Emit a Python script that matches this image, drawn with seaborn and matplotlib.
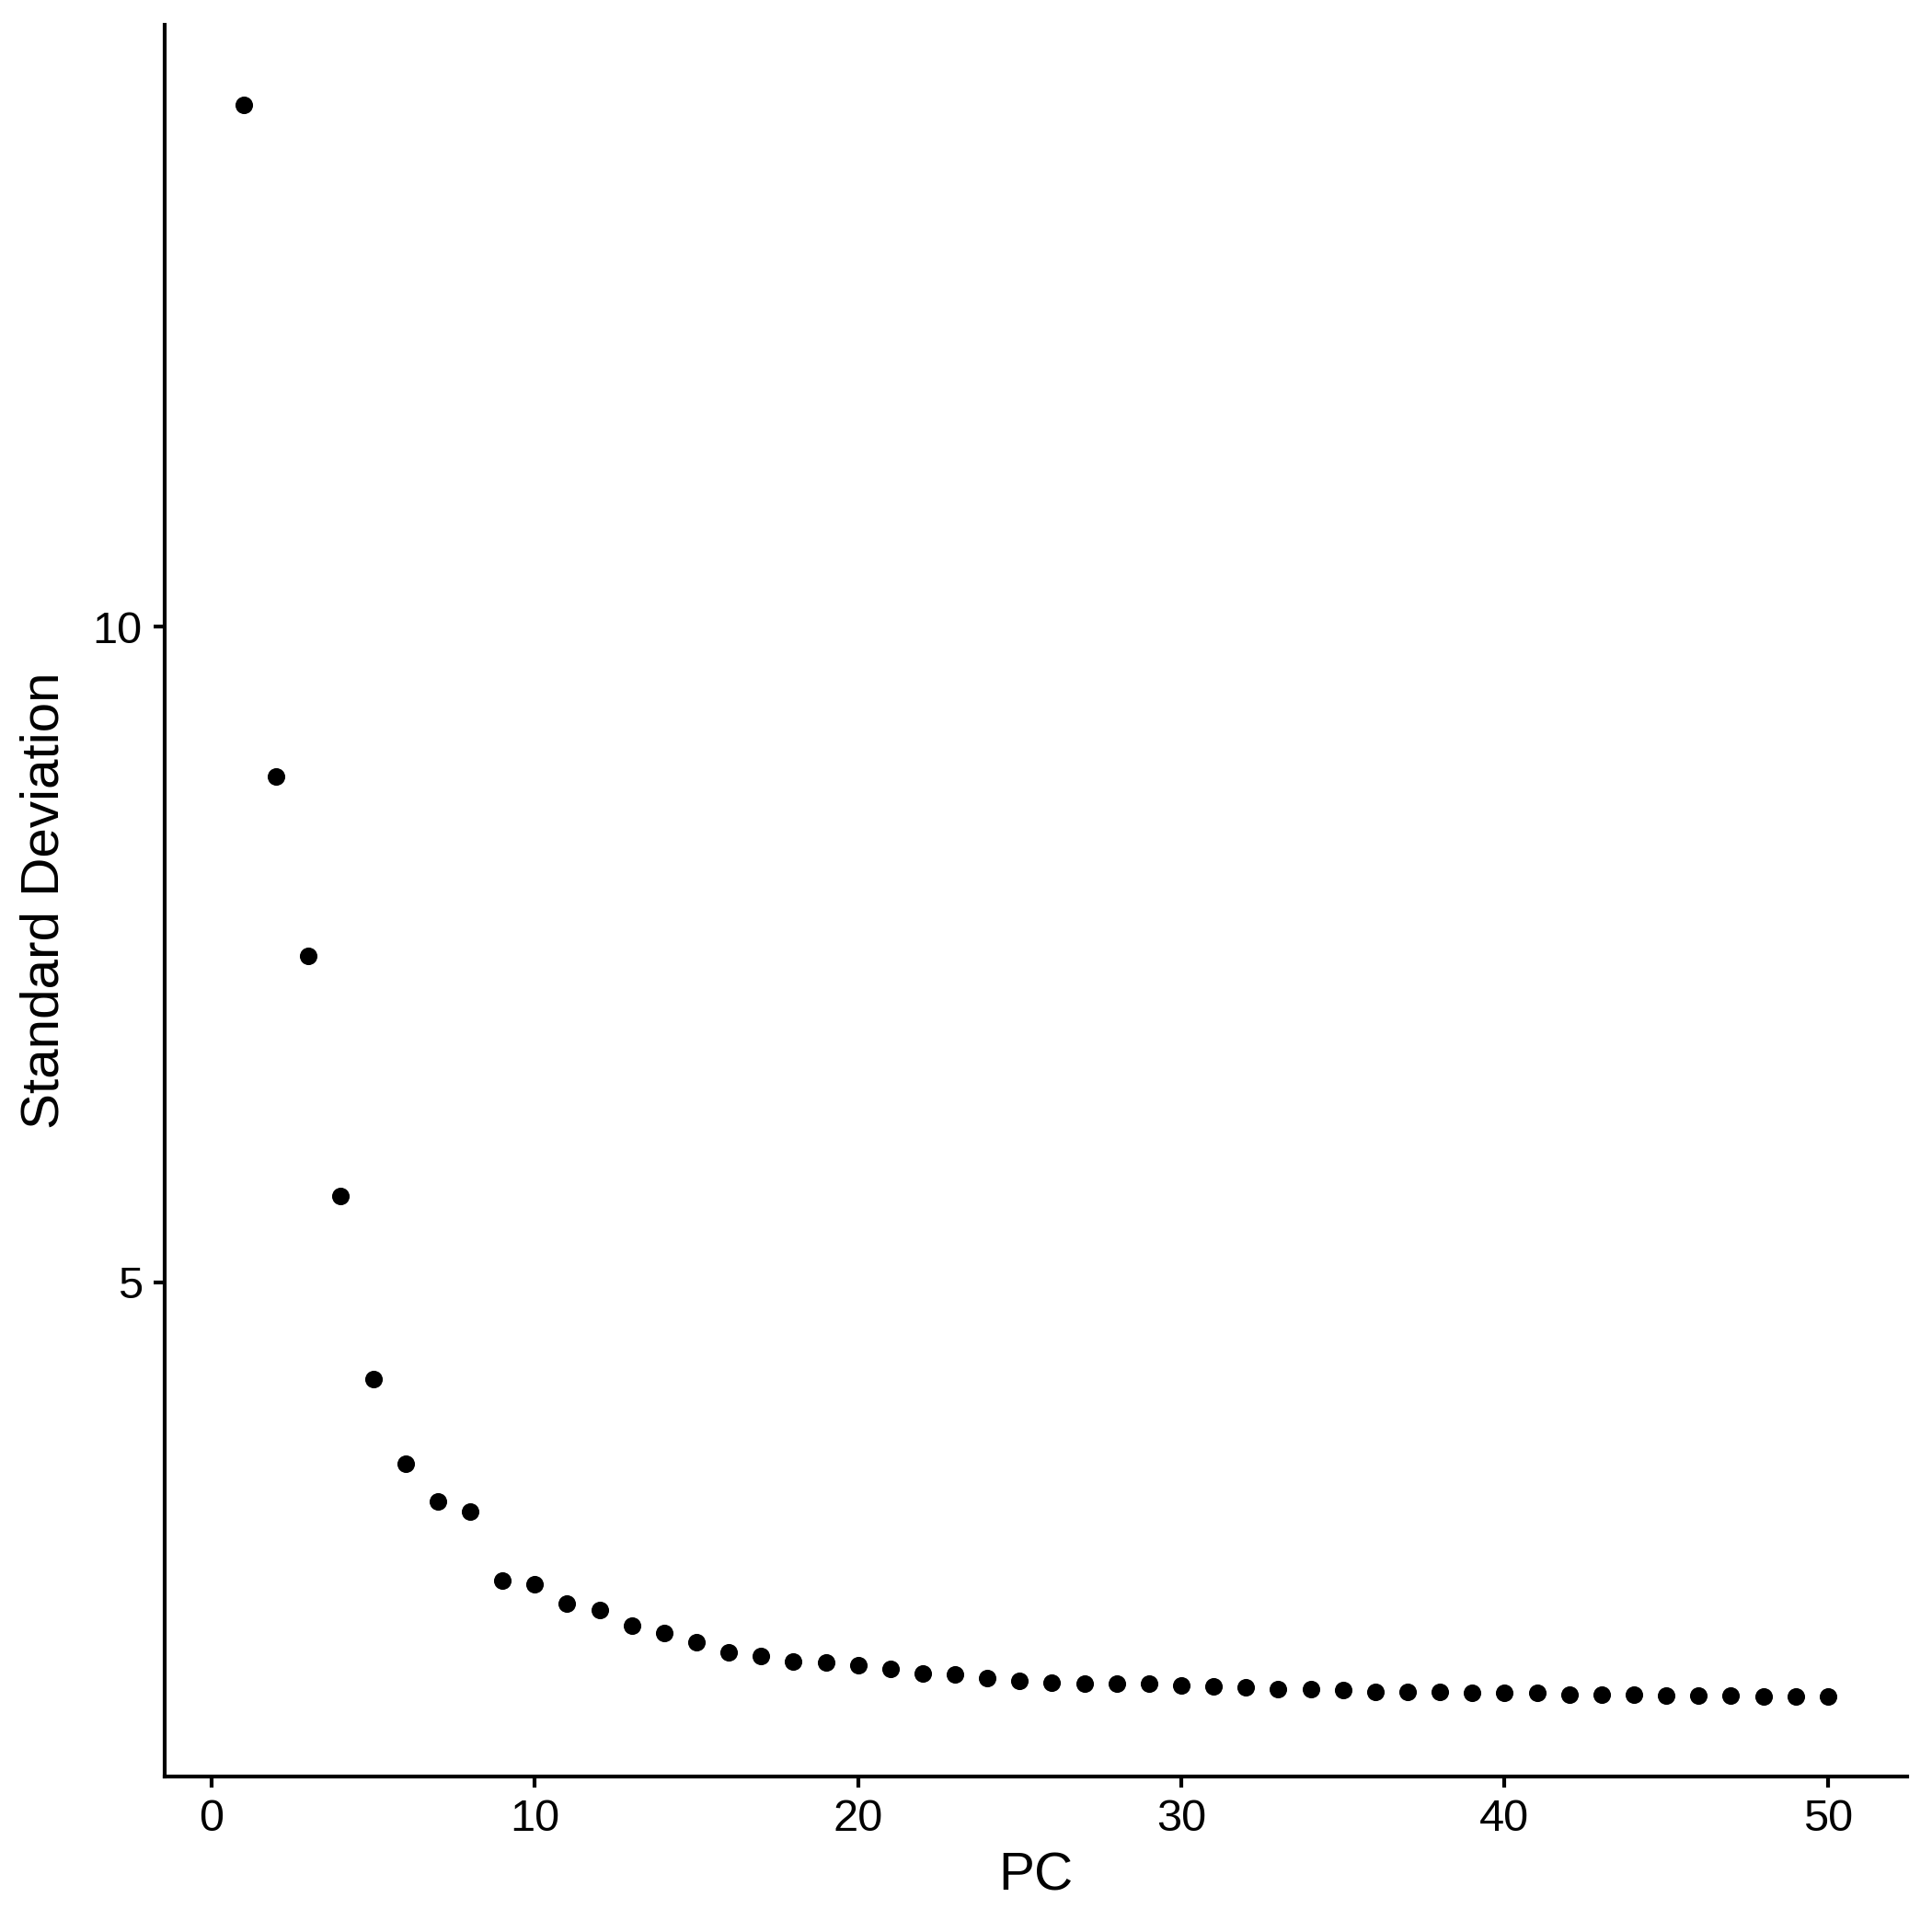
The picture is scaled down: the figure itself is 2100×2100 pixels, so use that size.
import matplotlib
matplotlib.use("Agg")
import matplotlib.pyplot as plt
import seaborn as sns
import pandas as pd

# elbow plot values
pcs = list(range(1, 51))
std_dev = [13.98, 8.86, 7.49, 5.66, 4.26, 3.62, 3.33, 3.25, 2.73, 2.70,
           2.55, 2.50, 2.38, 2.33, 2.26, 2.18, 2.15, 2.11, 2.10, 2.08,
           2.05, 2.02, 2.01, 1.98, 1.96, 1.95, 1.94, 1.94, 1.94, 1.93,
           1.92, 1.91, 1.90, 1.90, 1.89, 1.88, 1.88, 1.88, 1.87, 1.87,
           1.87, 1.86, 1.86, 1.86, 1.85, 1.85, 1.85, 1.84, 1.84, 1.84]
x_ticks = [0, 10, 20, 30, 40, 50]
y_ticks = [5, 10]

sns.set_style("ticks")
plt.rcParams["font.family"] = ["Liberation Sans", "DejaVu Sans"]
plt.rcParams["text.color"] = "black"
plt.rcParams["axes.labelcolor"] = "black"

df = pd.DataFrame({"PC": pcs, "Standard Deviation": std_dev})

fig = plt.figure(figsize=(7, 7), dpi=300)
ax = fig.add_axes([0.0852, 0.0805, 0.9019, 0.9066])
sns.scatterplot(data=df, x="PC", y="Standard Deviation", color="black",
                s=21, linewidth=0, ax=ax)

# ggplot-style 5% expansion
xr = max(pcs) - min(pcs)
yr = max(std_dev) - min(std_dev)
ax.set_xlim(min(pcs) - 0.05 * xr, max(pcs) + 0.05 * xr)
ax.set_ylim(min(std_dev) - 0.05 * yr, max(std_dev) + 0.05 * yr)
ax.set_xticks(x_ticks)
ax.set_yticks(y_ticks)

sns.despine(ax=ax)
for side in ["left", "bottom"]:
    ax.spines[side].set_linewidth(1.0)
    ax.spines[side].set_color("black")
ax.tick_params(axis="both", length=2.8, width=1.0, color="black",
               labelsize=11.7, labelcolor="black", pad=3)
ax.set_xlabel("PC", fontsize=14, labelpad=3)
ax.set_ylabel("Standard Deviation", fontsize=14, labelpad=6)

plt.savefig("out.png", dpi=300)
